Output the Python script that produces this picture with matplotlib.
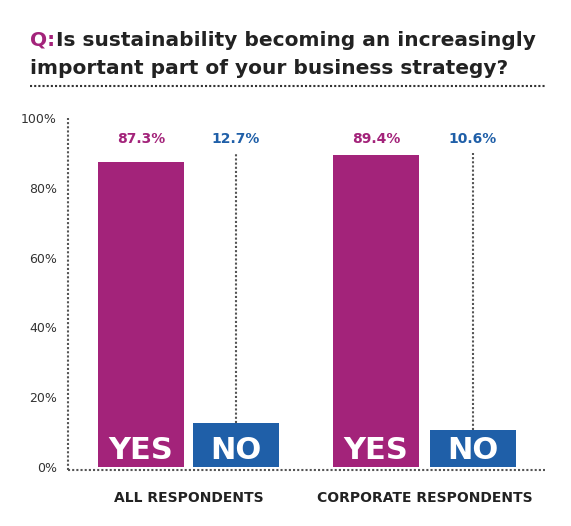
import matplotlib.pyplot as plt

groups = ["ALL RESPONDENTS", "CORPORATE RESPONDENTS"]
yes_vals = [87.3, 89.4]
no_vals = [12.7, 10.6]
purple = "#a3237a"
blue = "#1f5fa8"

W, H = 571, 526
fig = plt.figure(figsize=(W / 100, H / 100), dpi=100)
# axes in pixel box: x 68..545, y(0%)=467, y(100%)=118
ax = fig.add_axes([68 / W, (H - 467) / H, (545 - 68) / W, (467 - 118) / H])
ax.set_xlim(0, 477)
ax.set_ylim(0, 100)

yes_x = [30, 265]
no_x = [125, 362]
bw = 86
for i in range(2):
    ax.bar(yes_x[i], yes_vals[i], width=bw, align="edge", color=purple, zorder=3)
    ax.bar(no_x[i], no_vals[i], width=bw, align="edge", color=blue, zorder=3)
    ax.text(yes_x[i] + bw / 2, 0.5, "YES", color="white", ha="center", va="bottom",
            fontsize=22, fontweight="bold", zorder=4)
    ax.text(no_x[i] + bw / 2, 0.5, "NO", color="white", ha="center", va="bottom",
            fontsize=22, fontweight="bold", zorder=4)
    ax.text(yes_x[i] + bw / 2, 94, f"{yes_vals[i]}%", color=purple, ha="center",
            va="center", fontsize=10, fontweight="bold")
    ax.text(no_x[i] + bw / 2, 94, f"{no_vals[i]}%", color=blue, ha="center",
            va="center", fontsize=10, fontweight="bold")
    ax.plot([no_x[i] + bw / 2] * 2, [no_vals[i], 90], color="#555555", lw=1.5,
            ls=(0, (1, 1)), zorder=2)
    ax.text((yes_x[i] + no_x[i] + bw) / 2, -9, groups[i], ha="center", va="center",
            fontsize=10, fontweight="bold", color="#222222")

for s in ax.spines:
    ax.spines[s].set_visible(False)
ax.plot([0, 0], [-1, 100], color="#555555", lw=1.5, ls=(0, (1, 1)), clip_on=False)
ax.plot([0, 477], [-1, -1], color="#555555", lw=1.5, ls=(0, (1, 1)), clip_on=False)
ax.set_yticks(range(0, 101, 20))
ax.set_yticklabels([f"{v}%" for v in range(0, 101, 20)], fontsize=9, color="#333333")
ax.tick_params(axis="y", length=0, pad=8)
ax.set_xticks([])

fig.text(30 / W, 1 - 40 / H, "Q:", color=purple, fontsize=14.5, va="center",
         fontweight="semibold")
fig.text(56 / W, 1 - 40 / H, "Is sustainability becoming an increasingly",
         color="#222222", fontsize=14.5, va="center", fontweight="semibold")
fig.text(30 / W, 1 - 68 / H, "important part of your business strategy?",
         color="#222222", fontsize=14.5, va="center", fontweight="semibold")
fig.add_artist(plt.Line2D([30 / W, 545 / W], [1 - 86 / H] * 2, color="#333333",
                          lw=1.5, ls=(0, (1, 1))))

fig.savefig("out.png", dpi=100)
